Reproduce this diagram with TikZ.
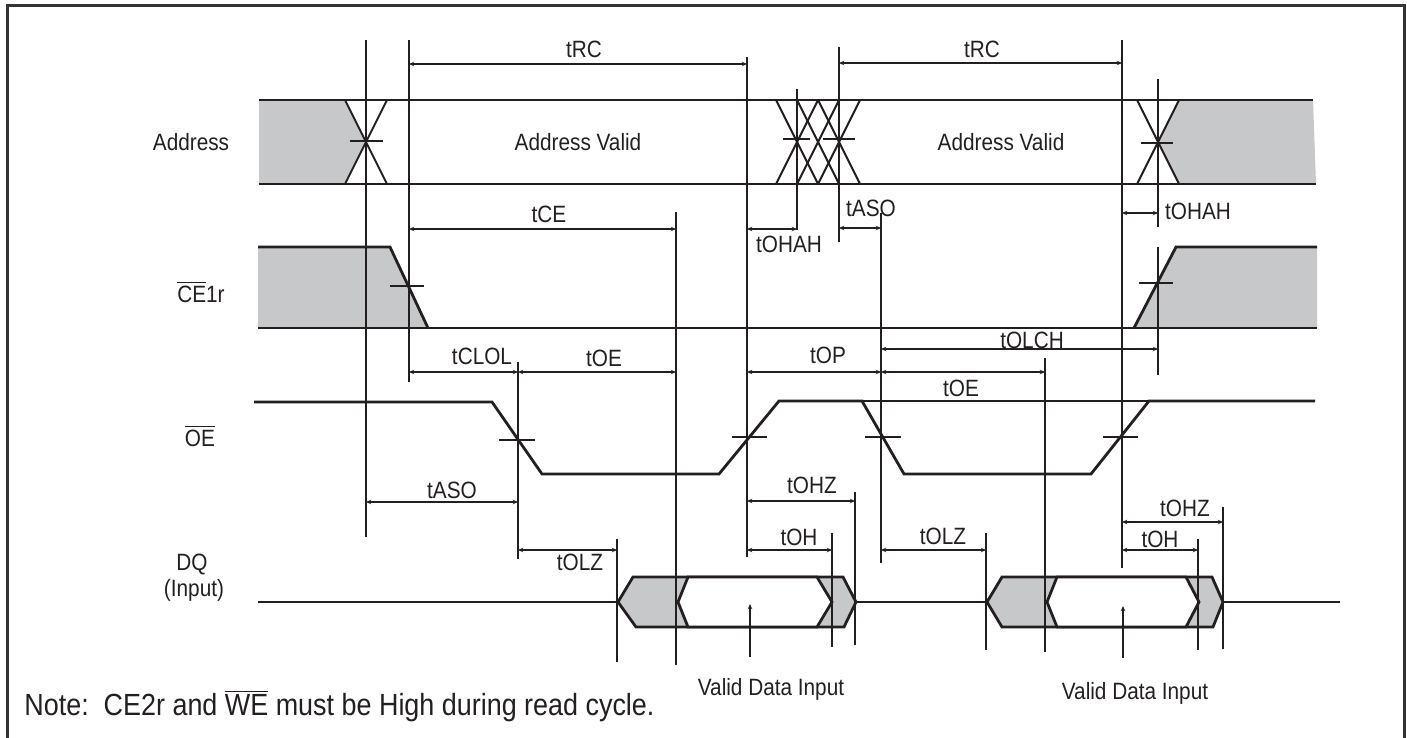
\documentclass[tikz,border=0pt]{standalone}
\usepackage{fontspec}
\setmainfont{Liberation Sans}[FakeStretch=0.88]
\usetikzlibrary{arrows.meta}
\definecolor{tdInk}{HTML}{231F20}
\definecolor{tdGrey}{HTML}{C7C8CA}
\definecolor{tdFrame}{HTML}{333333}
\tikzset{
  sig/.style={draw=tdInk, line width=1.4pt},
  edg/.style={draw=tdInk, line width=1pt},
  thn/.style={draw=tdInk, line width=0.6pt},
  dim/.style={thn, {Stealth[length=2.6pt,width=2.2pt]}-{Stealth[length=2.6pt,width=2.2pt]}},
  ptr/.style={thn, -{Stealth[length=2.6pt,width=2.2pt]}},
  lbl/.style={font=\fontsize{11.8}{13}\selectfont, text=tdInk, inner sep=0pt, anchor=base},
  notetxt/.style={font=\fontsize{15.3}{17}\selectfont, text=tdInk, inner sep=0pt, anchor=base west},
  hz/.style={fill=tdGrey},
}
\begin{document}
\begin{tikzpicture}[x=0.5pt, y=-0.5pt]
\useasboundingbox (0,0) rectangle (1407,738);
\draw[tdFrame, line width=1.5pt] (7,745) |- (1404,6) -- (1404,745);
% signal names
\node[lbl] (nAddr) at (191,150) {Address};
\node[lbl] (nCE) at (201,302) {$\overline{\mbox{CE}}$1r};
\node[lbl] (nOE) at (200,446) {$\overline{\mbox{OE}}$};
\node[lbl] (nDQ) at (192,570) {DQ};
\node[lbl] (nIn) at (194,596) {(Input)};
% address bus
\fill[hz] (259,100) -- (346,100) -- (366,142) -- (345,184) -- (259,184) -- cycle;
\fill[hz] (1179,100) -- (1313,100) -- (1316,184) -- (1180,184) -- (1158,142) -- cycle;
\draw[sig] (259,100) -- (1313,100); \draw[sig] (259,184) -- (1316,184);
\foreach \xm in {366,797,818,839,1158} \draw[edg] (\xm-21,100) -- (\xm+21,184) (\xm+21,100) -- (\xm-21,184);
\draw[thn] (350,141) -- (383,141) (783,139) -- (810,139) (823,139) -- (855,139) (1141,143) -- (1173,143);
\node[lbl] (nAV1) at (578,150) {Address Valid};
\node[lbl] (nAV2) at (1001,150) {Address Valid};
% CE1r
\fill[hz] (258,247) -- (390,247) -- (428,328) -- (258,328) -- cycle;
\fill[hz] (1176,247) -- (1317,247) -- (1317,328) -- (1134,328) -- cycle;
\draw[sig] (258,247) -- (390,247) -- (428,328); \draw[sig] (258,328) -- (1317,328);
\draw[sig] (1134,328) -- (1176,247) -- (1317,247);
\draw[thn] (390,286) -- (424,286) (1139,283) -- (1173,283);
% OE
\draw[sig] (254,402) -- (492,402) -- (542,474) -- (719,474) -- (779,401) -- (862,401) -- (904,474) -- (1091,474) -- (1149,401) -- (1315,401);
\draw[thn] (862,401) -- (1149,401);
\draw[thn] (499,440) -- (535,440) (732,437) -- (767,437) (865,437) -- (901,437) (1103,437) -- (1138,437);
% DQ
\draw[sig] (258,602) -- (618,602) (832,602) -- (987,602) (1199,602) -- (1340,602);
\filldraw[hz, sig] (618,602) -- (633,577) -- (843,577) -- (856,602) -- (844,627) -- (636,627) -- cycle;
\filldraw[fill=white, sig] (678,602) -- (688,577) -- (817,577) -- (832,602) -- (817,627) -- (688,627) -- cycle;
\filldraw[hz, sig] (987,602) -- (1002,577) -- (1212,577) -- (1223,602) -- (1213,627) -- (1002,627) -- cycle;
\filldraw[fill=white, sig] (1047,602) -- (1057,577) -- (1186,577) -- (1199,602) -- (1186,627) -- (1057,627) -- cycle;
\draw[ptr] (750,657) -- (750,604); \draw[ptr] (1123,658) -- (1123,606);
\node[lbl] (nVD1) at (771,695) {Valid Data Input};
\node[lbl] (nVD2) at (1135,699) {Valid Data Input};
% reference lines
\draw[thn] (366,40) -- (366,537) (409,40) -- (409,382) (676,212) -- (676,665) (747,57) -- (747,557);
\draw[thn] (797,89) -- (797,230) (839,47) -- (839,242) (881,213) -- (881,563) (1122,40) -- (1122,568);
\draw[thn] (1158,79) -- (1158,227) (1158,247) -- (1158,375) (1045,358) -- (1045,652) (518,362) -- (518,559);
\draw[thn] (617,539) -- (617,662) (832,533) -- (832,647) (855,492) -- (855,645) (986,533) -- (986,650);
\draw[thn] (1198,539) -- (1198,650) (1223,507) -- (1223,649);
% timing parameters
\draw[dim] (409,64) -- (747,64); \node[lbl] (tRCa) at (584,58) {tRC};
\draw[dim] (839,63) -- (1122,63); \node[lbl] (tRCb) at (982,58) {tRC};
\draw[dim] (409,229) -- (676,229); \node[lbl] (tCE) at (549,222) {tCE};
\draw[dim] (747,229) -- (797,229); \node[lbl] (tOHAHa) at (789,252) {tOHAH};
\draw[dim] (839,228) -- (881,228); \node[lbl] (tASOa) at (871,216) {tASO};
\draw[dim] (1122,213) -- (1158,213); \node[lbl] (tOHAHb) at (1198,219) {tOHAH};
\draw[dim] (409,372) -- (518,372); \node[lbl] (tCLOL) at (482,364) {tCLOL};
\draw[dim] (518,372) -- (676,372); \node[lbl] (tOEa) at (604,366) {tOE};
\draw[dim] (747,372) -- (881,372); \node[lbl] (tOP) at (828,363) {tOP};
\draw[dim] (881,349) -- (1158,349); \node[lbl] (tOLCH) at (1032,348) {tOLCH};
\draw[dim] (881,372) -- (1045,372); \node[lbl] (tOEb) at (961,396) {tOE};
\draw[dim] (366,502) -- (518,502); \node[lbl] (tASOb) at (452,498) {tASO};
\draw[dim] (518,550) -- (617,550); \node[lbl] (tOLZa) at (580,570) {tOLZ};
\draw[dim] (747,501) -- (855,501); \node[lbl] (tOHZa) at (812,493) {tOHZ};
\draw[dim] (747,550) -- (832,550); \node[lbl] (tOHa) at (799,545) {tOH};
\draw[dim] (881,550) -- (986,550); \node[lbl] (tOLZb) at (943,544) {tOLZ};
\draw[dim] (1122,522) -- (1223,522); \node[lbl] (tOHZb) at (1185,516) {tOHZ};
\draw[dim] (1122,550) -- (1198,550); \node[lbl] (tOHb) at (1160,547) {tOH};
% note
\node[notetxt] (nNote) at (24,715) {Note:\ \ CE2r and $\overline{\mbox{WE}}$ must be High during read cycle.};
\end{tikzpicture}
\end{document}
